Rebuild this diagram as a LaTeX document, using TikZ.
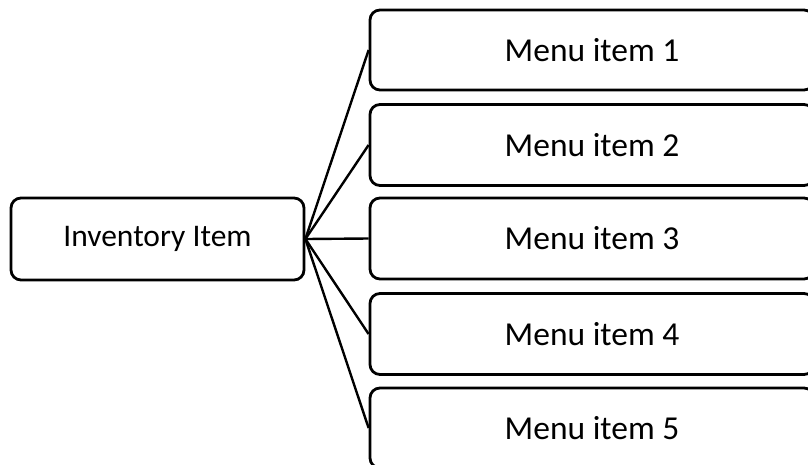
\documentclass[tikz,border=0pt]{standalone}
\usepackage{fontspec}
\setmainfont{Carlito}
\begin{document}
\begin{tikzpicture}[x=1pt,y=-1pt,
  box/.style={draw=black,line width=2.8pt,rounded corners=10pt,inner sep=0pt,font=\fontsize{33.5}{40}\selectfont},
  link/.style={draw=black,line width=2.4pt}]
\useasboundingbox (0,0) rectangle (808,464);
\clip (0,0) rectangle (808,464);
\node[box,minimum width=293pt,minimum height=82pt,font=\fontsize{31.5}{38}\selectfont] (inv) at (157.5,239) {Inventory Item};
\node[box,minimum width=444pt,minimum height=80pt] (m1) at (592,50) {Menu item 1};
\node[box,minimum width=444pt,minimum height=81pt] (m2) at (592,145) {Menu item 2};
\node[box,minimum width=444pt,minimum height=81pt] (m3) at (592,238.5) {Menu item 3};
\node[box,minimum width=444pt,minimum height=81pt] (m4) at (592,334) {Menu item 4};
\node[box,minimum width=444pt,minimum height=80pt] (m5) at (592,428) {Menu item 5};
\foreach \m in {m1,m2,m3,m4,m5}
  \draw[link] (inv.east) -- (\m.west);
\end{tikzpicture}
\end{document}
